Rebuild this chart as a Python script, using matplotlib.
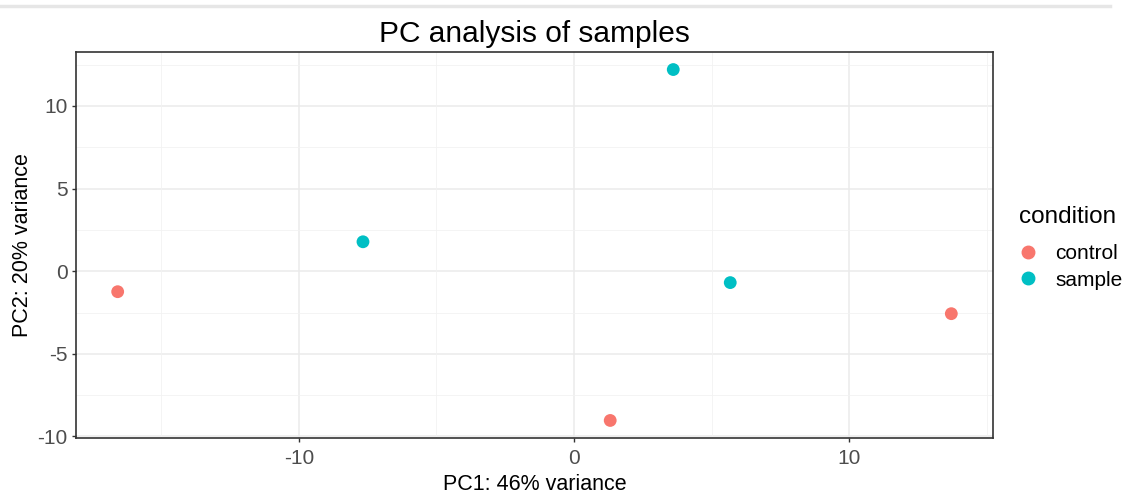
import matplotlib
matplotlib.use("Agg")
import matplotlib.pyplot as plt
from matplotlib.lines import Line2D

plt.rcParams['font.family'] = ['Liberation Sans', 'DejaVu Sans']
plt.rcParams['axes.unicode_minus'] = False

# PCA coordinates
conditions = ['control', 'sample']
colors = {'control': '#F8766D', 'sample': '#00BFC4'}
pc1 = [-16.58, 1.31, 13.7, -7.67, 3.6, 5.67]
pc2 = [-1.24, -9.03, -2.57, 1.78, 12.2, -0.69]
group = ['control', 'control', 'control', 'sample', 'sample', 'sample']

x_ticks = [-10, 0, 10]
y_ticks = [-10, -5, 0, 5, 10]
x_minor = [-15, -5, 5, 15]
y_minor = [-7.5, -2.5, 2.5, 7.5, 12.5]

fig = plt.figure(figsize=(11.27, 4.93), dpi=100)
ax = fig.add_axes([76 / 1127, 1 - 438 / 493, (993 - 76) / 1127, (438 - 52) / 493])

# faint screenshot line along the top
fig.add_artist(Line2D([0, 0.985], [1 - 6 / 493, 1 - 6 / 493], color='#e6e6e6', lw=2.5))

for v in x_ticks:
    ax.axvline(v, color='#ebebeb', lw=1.1, zorder=0)
for v in y_ticks:
    ax.axhline(v, color='#ebebeb', lw=1.1, zorder=0)
for v in x_minor:
    ax.axvline(v, color='#f2f2f2', lw=0.6, zorder=0)
for v in y_minor:
    ax.axhline(v, color='#f2f2f2', lw=0.6, zorder=0)

for cond in conditions:
    xs = [x for x, g in zip(pc1, group) if g == cond]
    ys = [y for y, g in zip(pc2, group) if g == cond]
    ax.scatter(xs, ys, s=85, color=colors[cond], edgecolors='none', zorder=3)

rng_x = max(pc1) - min(pc1)
rng_y = max(pc2) - min(pc2)
ax.set_xlim(min(pc1) - 0.05 * rng_x, max(pc1) + 0.05 * rng_x)
ax.set_ylim(min(pc2) - 0.05 * rng_y, max(pc2) + 0.05 * rng_y)

ax.set_xticks(x_ticks)
ax.set_yticks(y_ticks)
ax.tick_params(labelsize=15, colors='#333333', length=3, width=1,
               labelcolor='#4d4d4d', pad=3)
ax.tick_params(axis='x', pad=5)
for sp in ax.spines.values():
    sp.set_color('#333333')
    sp.set_linewidth(1.2)

ax.set_xlabel('PC1: 46% variance', fontsize=15.5, labelpad=4)
ax.set_ylabel('PC2: 20% variance', fontsize=15.5, labelpad=3)
ax.set_title('PC analysis of samples', fontsize=21.5, pad=7)

# legend: title as separate text, entries below it
fig.text(1019 / 1127, 1 - 217 / 493, 'condition', fontsize=17.5,
         ha='left', va='center')
handles = [Line2D([], [], marker='o', ls='none', color=colors[c], markersize=9, label=c)
           for c in conditions]
leg = fig.legend(handles=handles, loc='upper left',
                 bbox_to_anchor=(1018 / 1127, 1 - 244 / 493), frameon=False,
                 fontsize=15, handletextpad=0.8, handlelength=1.0,
                 labelspacing=0.36, borderaxespad=0, borderpad=0)

fig.savefig('out.png', dpi=100)
